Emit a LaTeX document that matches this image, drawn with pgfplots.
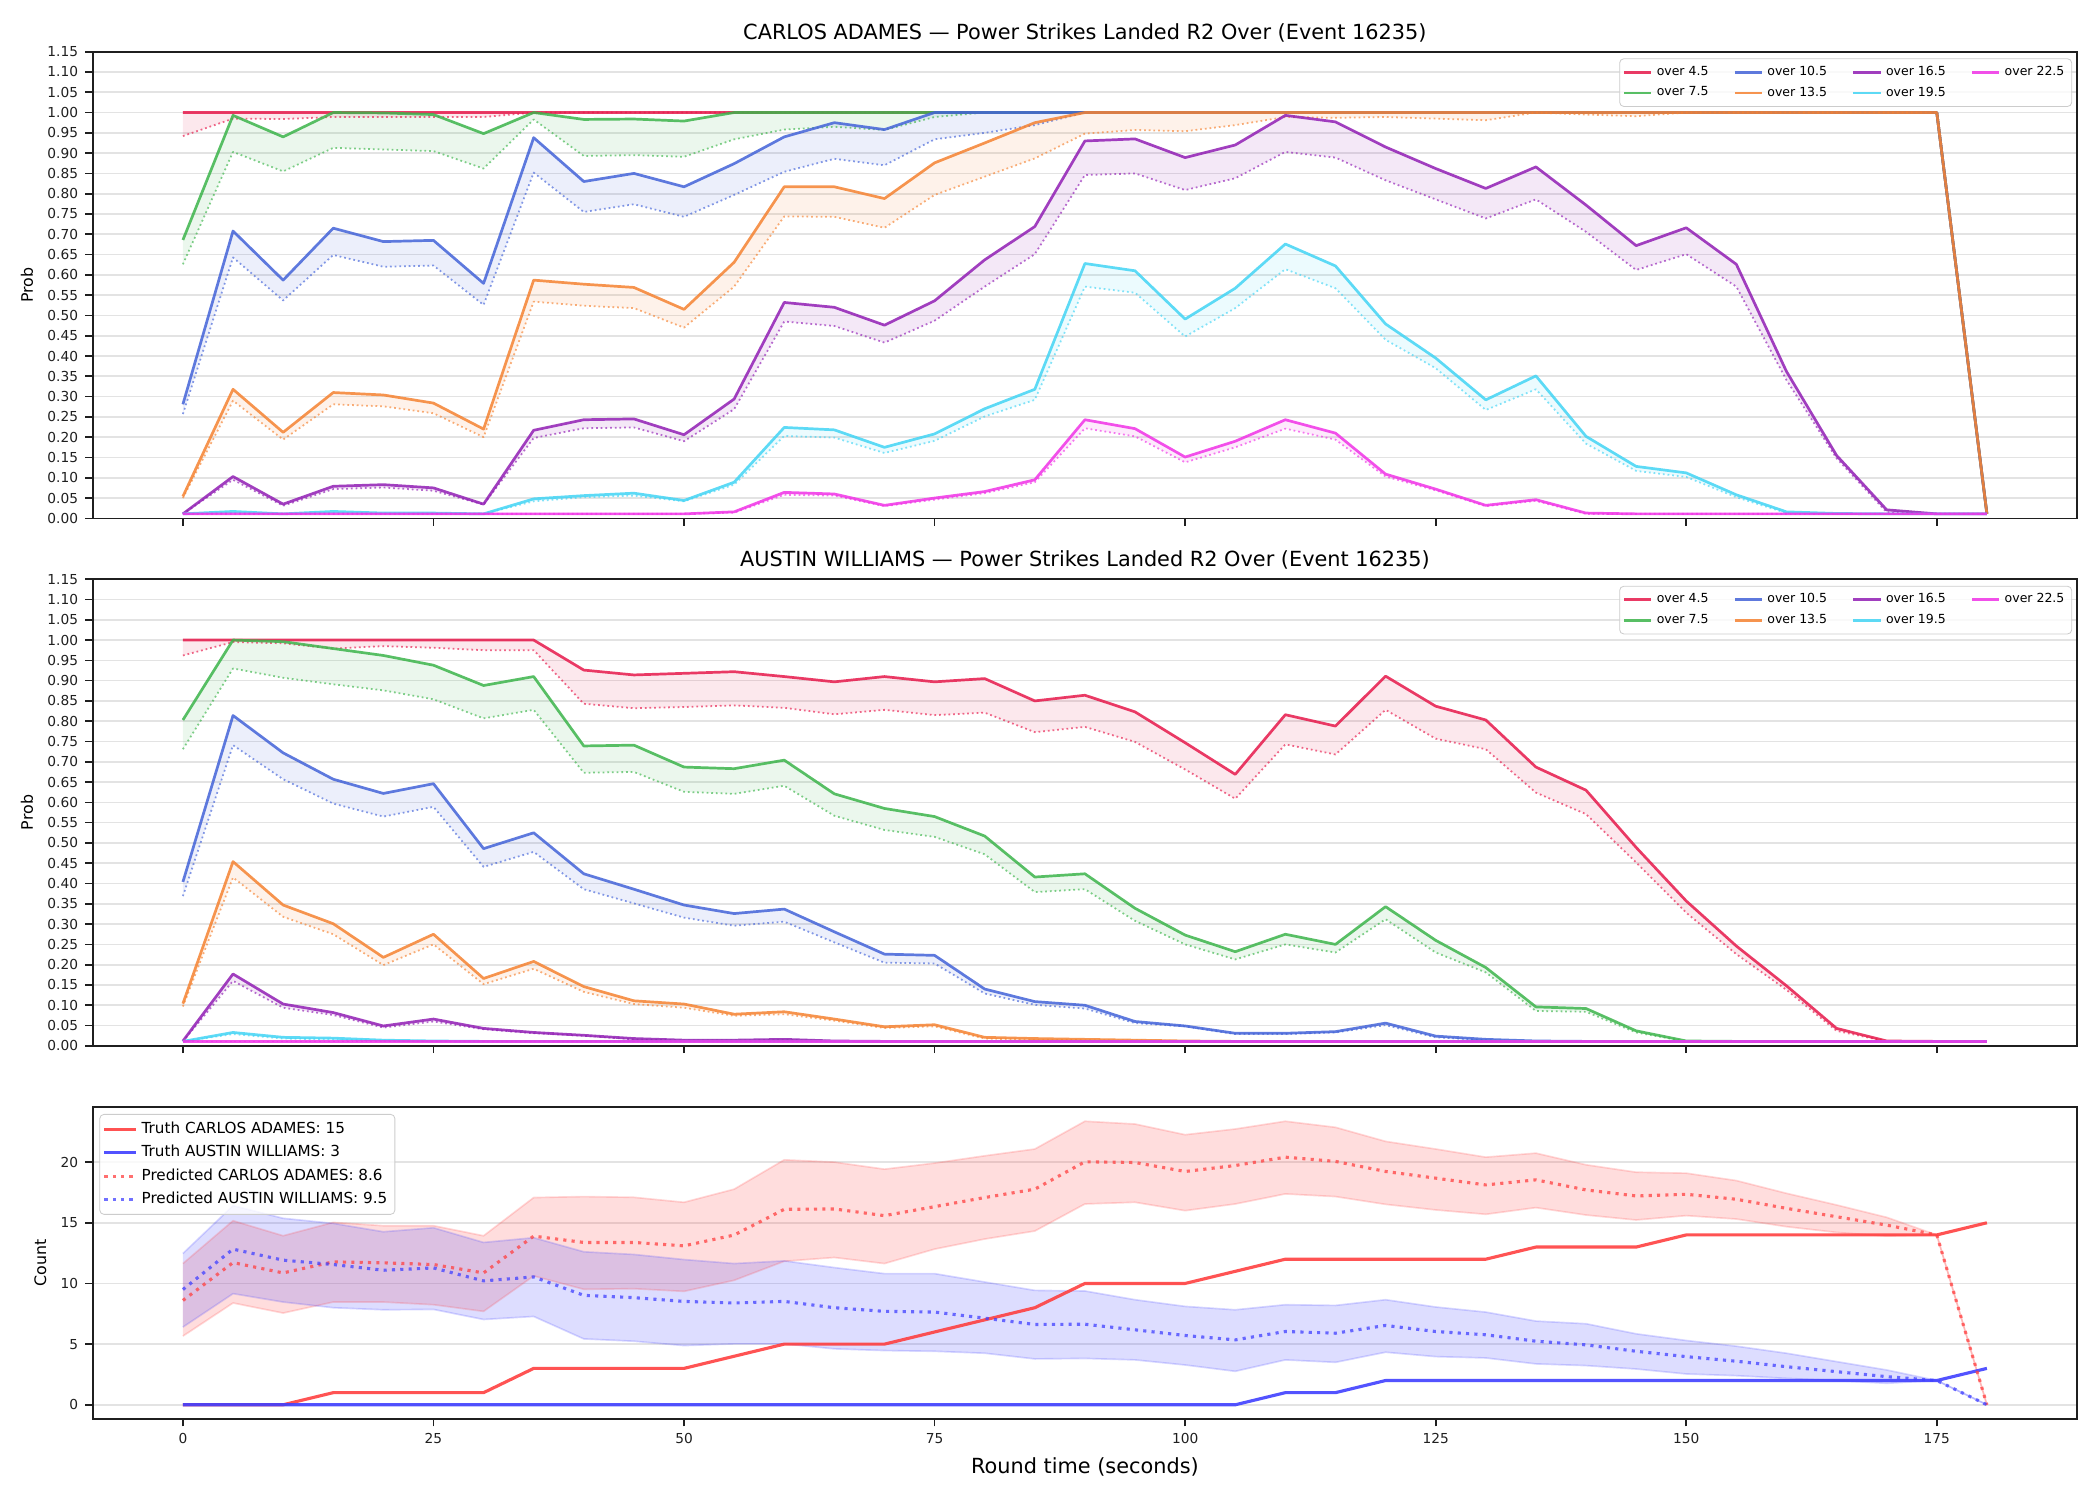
\documentclass[border=0pt]{standalone}
\usepackage{fontspec}
\setmainfont{DejaVu Sans}
\usepackage{pgfplots}
\pgfplotsset{compat=1.18}
\usepackage{pgfplotstable}
\usepgfplotslibrary{fillbetween}

\definecolor{c45}{HTML}{E6194B}
\definecolor{c75}{HTML}{3CB44B}
\definecolor{c105}{HTML}{4363D8}
\definecolor{c135}{HTML}{F58231}
\definecolor{c165}{HTML}{911EB4}
\definecolor{c195}{HTML}{42D4F4}
\definecolor{c225}{HTML}{F032E6}
\definecolor{cr}{HTML}{FF4040}
\definecolor{cb}{HTML}{4040FF}

\pgfplotstableread{
t s45 d45 s75 d75 s105 d105 s135 d135 s165 d165 s195 d195 s225 d225
0 1.0 0.942 0.686 0.626 0.281 0.257 0.054 0.050 0.011 0.011 0.011 0.011 0.011 0.011
5 1.0 0.985 0.993 0.903 0.708 0.643 0.318 0.290 0.103 0.095 0.017 0.014 0.011 0.011
10 1.0 0.984 0.940 0.855 0.587 0.537 0.212 0.194 0.035 0.031 0.011 0.011 0.011 0.011
15 1.0 0.989 1.0 0.913 0.715 0.649 0.310 0.281 0.079 0.072 0.017 0.014 0.011 0.011
20 1.0 0.989 0.999 0.909 0.682 0.620 0.304 0.276 0.083 0.076 0.013 0.012 0.011 0.011
25 1.0 0.989 0.995 0.905 0.685 0.623 0.284 0.259 0.075 0.068 0.013 0.012 0.011 0.011
30 1.0 0.989 0.948 0.862 0.579 0.526 0.220 0.200 0.035 0.034 0.011 0.011 0.011 0.011
35 1.0 1.0 1.0 0.983 0.938 0.852 0.587 0.534 0.217 0.198 0.048 0.042 0.011 0.011
40 1.0 1.0 0.983 0.893 0.830 0.755 0.577 0.524 0.243 0.222 0.056 0.052 0.011 0.011
45 1.0 1.0 0.984 0.895 0.850 0.774 0.569 0.518 0.245 0.224 0.062 0.056 0.011 0.011
50 1.0 1.0 0.979 0.891 0.817 0.743 0.515 0.470 0.206 0.190 0.044 0.042 0.011 0.011
55 1.0 1.0 1.0 0.934 0.874 0.797 0.631 0.571 0.294 0.269 0.089 0.083 0.016 0.014
60 1.0 1.0 1.0 0.958 0.940 0.854 0.817 0.744 0.532 0.485 0.224 0.203 0.064 0.058
65 1.0 1.0 1.0 0.965 0.975 0.886 0.817 0.743 0.520 0.474 0.218 0.199 0.060 0.056
70 1.0 1.0 1.0 0.957 0.958 0.870 0.788 0.716 0.476 0.433 0.175 0.161 0.032 0.030
75 1.0 1.0 1.0 0.989 1.0 0.934 0.876 0.797 0.536 0.487 0.208 0.191 0.050 0.046
80 1.0 1.0 1.0 1.0 1.0 0.950 0.925 0.842 0.637 0.571 0.270 0.251 0.066 0.062
85 1.0 1.0 1.0 1.0 1.0 0.969 0.975 0.887 0.719 0.651 0.318 0.292 0.095 0.089
90 1.0 1.0 1.0 1.0 1.0 1.0 1.0 0.948 0.930 0.846 0.628 0.571 0.243 0.222
95 1.0 1.0 1.0 1.0 1.0 1.0 1.0 0.957 0.935 0.850 0.610 0.556 0.221 0.202
100 1.0 1.0 1.0 1.0 1.0 1.0 1.0 0.954 0.889 0.809 0.491 0.448 0.151 0.138
105 1.0 1.0 1.0 1.0 1.0 1.0 1.0 0.969 0.920 0.838 0.567 0.518 0.190 0.175
110 1.0 1.0 1.0 1.0 1.0 1.0 1.0 0.989 0.993 0.903 0.676 0.614 0.243 0.221
115 1.0 1.0 1.0 1.0 1.0 1.0 1.0 0.987 0.977 0.889 0.622 0.567 0.210 0.194
120 1.0 1.0 1.0 1.0 1.0 1.0 1.0 0.989 0.915 0.833 0.479 0.440 0.109 0.103
125 1.0 1.0 1.0 1.0 1.0 1.0 1.0 0.985 0.862 0.786 0.395 0.370 0.072 0.069
130 1.0 1.0 1.0 1.0 1.0 1.0 1.0 0.981 0.813 0.739 0.292 0.267 0.032 0.030
135 1.0 1.0 1.0 1.0 1.0 1.0 1.0 1.0 0.866 0.786 0.351 0.318 0.046 0.043
140 1.0 1.0 1.0 1.0 1.0 1.0 1.0 0.995 0.772 0.706 0.202 0.184 0.013 0.011
145 1.0 1.0 1.0 1.0 1.0 1.0 1.0 0.991 0.672 0.612 0.128 0.117 0.011 0.011
150 1.0 1.0 1.0 1.0 1.0 1.0 1.0 1.0 0.716 0.651 0.112 0.102 0.011 0.011
155 1.0 1.0 1.0 1.0 1.0 1.0 1.0 1.0 0.626 0.571 0.058 0.052 0.011 0.011
160 1.0 1.0 1.0 1.0 1.0 1.0 1.0 1.0 0.362 0.341 0.016 0.013 0.011 0.011
165 1.0 1.0 1.0 1.0 1.0 1.0 1.0 1.0 0.155 0.148 0.012 0.011 0.011 0.011
170 1.0 1.0 1.0 1.0 1.0 1.0 1.0 1.0 0.021 0.015 0.011 0.011 0.011 0.011
175 1.0 1.0 1.0 1.0 1.0 1.0 1.0 1.0 0.011 0.011 0.011 0.011 0.011 0.011
180 0.011 0.011 0.011 0.011 0.011 0.011 0.011 0.011 0.011 0.011 0.011 0.011 0.011 0.011
}\carlos

\pgfplotstableread{
t s45 d45 s75 d75 s105 d105 s135 d135 s165 d165 s195 d195 s225 d225
0 1.0 0.962 0.803 0.731 0.404 0.369 0.104 0.097 0.012 0.011 0.011 0.011 0.011 0.011
5 1.0 0.995 1.0 0.930 0.814 0.741 0.454 0.415 0.177 0.160 0.033 0.029 0.011 0.011
10 1.0 0.992 0.996 0.907 0.722 0.657 0.347 0.318 0.103 0.094 0.021 0.018 0.011 0.011
15 1.0 0.979 0.979 0.891 0.657 0.597 0.301 0.275 0.082 0.076 0.019 0.016 0.011 0.011
20 1.0 0.985 0.962 0.876 0.622 0.565 0.218 0.199 0.049 0.045 0.014 0.013 0.011 0.011
25 1.0 0.981 0.938 0.854 0.646 0.589 0.275 0.250 0.066 0.060 0.012 0.012 0.011 0.011
30 1.0 0.975 0.888 0.807 0.486 0.441 0.166 0.152 0.043 0.041 0.011 0.011 0.011 0.011
35 1.0 0.975 0.910 0.828 0.525 0.478 0.208 0.190 0.033 0.031 0.011 0.011 0.011 0.011
40 0.926 0.843 0.739 0.673 0.424 0.386 0.146 0.133 0.026 0.025 0.011 0.011 0.011 0.011
45 0.914 0.832 0.741 0.675 0.386 0.351 0.111 0.103 0.018 0.016 0.011 0.011 0.011 0.011
50 0.918 0.835 0.687 0.626 0.347 0.316 0.103 0.094 0.014 0.013 0.011 0.011 0.011 0.011
55 0.922 0.839 0.683 0.621 0.326 0.296 0.078 0.074 0.014 0.013 0.011 0.011 0.011 0.011
60 0.910 0.833 0.704 0.641 0.337 0.306 0.084 0.078 0.016 0.014 0.011 0.011 0.011 0.011
65 0.897 0.817 0.621 0.567 0.281 0.255 0.066 0.062 0.012 0.012 0.011 0.011 0.011 0.011
70 0.910 0.828 0.585 0.532 0.226 0.205 0.047 0.044 0.011 0.011 0.011 0.011 0.011 0.011
75 0.897 0.815 0.565 0.515 0.223 0.203 0.052 0.048 0.011 0.011 0.011 0.011 0.011 0.011
80 0.905 0.821 0.517 0.472 0.140 0.129 0.021 0.018 0.011 0.011 0.011 0.011 0.011 0.011
85 0.850 0.773 0.416 0.379 0.109 0.101 0.018 0.015 0.011 0.011 0.011 0.011 0.011 0.011
90 0.864 0.786 0.424 0.386 0.100 0.092 0.016 0.014 0.011 0.011 0.011 0.011 0.011 0.011
95 0.823 0.749 0.339 0.308 0.060 0.056 0.014 0.013 0.011 0.011 0.011 0.011 0.011 0.011
100 0.747 0.681 0.273 0.250 0.049 0.048 0.012 0.012 0.011 0.011 0.011 0.011 0.011 0.011
105 0.669 0.609 0.232 0.213 0.031 0.029 0.011 0.011 0.011 0.011 0.011 0.011 0.011 0.011
110 0.816 0.743 0.275 0.250 0.031 0.029 0.011 0.011 0.011 0.011 0.011 0.011 0.011 0.011
115 0.788 0.718 0.250 0.230 0.035 0.033 0.011 0.011 0.011 0.011 0.011 0.011 0.011 0.011
120 0.911 0.828 0.343 0.312 0.056 0.051 0.011 0.011 0.011 0.011 0.011 0.011 0.011 0.011
125 0.837 0.757 0.260 0.230 0.024 0.021 0.011 0.011 0.011 0.011 0.011 0.011 0.011 0.011
130 0.803 0.731 0.193 0.181 0.016 0.014 0.011 0.011 0.011 0.011 0.011 0.011 0.011 0.011
135 0.687 0.624 0.096 0.086 0.012 0.011 0.011 0.011 0.011 0.011 0.011 0.011 0.011 0.011
140 0.630 0.571 0.092 0.084 0.011 0.011 0.011 0.011 0.011 0.011 0.011 0.011 0.011 0.011
145 0.489 0.452 0.037 0.033 0.011 0.011 0.011 0.011 0.011 0.011 0.011 0.011 0.011 0.011
150 0.357 0.328 0.012 0.011 0.011 0.011 0.011 0.011 0.011 0.011 0.011 0.011 0.011 0.011
155 0.246 0.226 0.011 0.011 0.011 0.011 0.011 0.011 0.011 0.011 0.011 0.011 0.011 0.011
160 0.148 0.138 0.011 0.011 0.011 0.011 0.011 0.011 0.011 0.011 0.011 0.011 0.011 0.011
165 0.043 0.037 0.011 0.011 0.011 0.011 0.011 0.011 0.011 0.011 0.011 0.011 0.011 0.011
170 0.012 0.011 0.011 0.011 0.011 0.011 0.011 0.011 0.011 0.011 0.011 0.011 0.011 0.011
175 0.011 0.011 0.011 0.011 0.011 0.011 0.011 0.011 0.011 0.011 0.011 0.011 0.011 0.011
180 0.011 0.011 0.011 0.011 0.011 0.011 0.011 0.011 0.011 0.011 0.011 0.011 0.011 0.011
}\austin

\pgfplotstableread{
t tc ta pc lc uc pa la ua
0 0 0 8.6 5.66 11.64 9.5 6.40 12.47
5 0 0 11.72 8.39 15.17 12.83 9.16 16.41
10 0 0 10.87 7.56 13.93 11.92 8.47 15.37
15 1 0 11.78 8.47 15.03 11.56 8.00 14.95
20 1 0 11.70 8.47 14.76 11.09 7.83 14.26
25 1 0 11.56 8.25 14.76 11.28 7.86 14.59
30 1 0 10.87 7.70 13.93 10.21 7.03 13.38
35 3 0 13.90 10.62 17.08 10.54 7.28 13.77
40 3 0 13.38 9.52 17.16 9.02 5.43 12.61
45 3 0 13.38 9.57 17.10 8.83 5.24 12.39
50 3 0 13.10 9.35 16.69 8.52 4.88 11.97
55 4 0 13.99 10.26 17.77 8.39 5.02 11.64
60 5 0 16.11 11.83 20.19 8.52 5.02 11.86
65 5 0 16.14 12.14 20.00 8.00 4.61 11.31
70 5 0 15.59 11.64 19.42 7.70 4.47 10.81
75 6 0 16.33 12.83 19.92 7.64 4.41 10.81
80 7 0 17.08 13.66 20.52 7.14 4.25 10.12
85 8 0 17.77 14.32 21.08 6.62 3.78 9.43
90 10 0 20.03 16.55 23.37 6.64 3.82 9.38
95 10 0 19.97 16.69 23.14 6.18 3.70 8.66
100 10 0 19.23 16.00 22.26 5.71 3.28 8.11
105 11 0 19.72 16.55 22.73 5.35 2.76 7.83
110 12 1 20.41 17.38 23.37 6.04 3.70 8.25
115 12 1 20.06 17.16 22.87 5.90 3.50 8.19
120 12 2 19.23 16.52 21.71 6.54 4.33 8.66
125 12 2 18.68 16.06 21.08 6.04 3.97 8.06
130 12 2 18.12 15.70 20.41 5.77 3.86 7.64
135 13 2 18.54 16.25 20.74 5.24 3.37 6.90
140 13 2 17.71 15.64 19.78 4.94 3.23 6.68
145 13 2 17.21 15.23 19.17 4.41 2.95 5.85
150 14 2 17.35 15.59 19.09 3.97 2.54 5.30
155 14 2 16.94 15.31 18.48 3.59 2.40 4.83
160 14 2 16.19 14.68 17.43 3.14 2.18 4.25
165 14 2 15.50 14.21 16.47 2.73 1.99 3.56
170 14 2 14.81 13.90 15.45 2.32 1.77 2.87
175 14 2 14.00 14.00 14.00 2.00 2.00 2.00
180 15 3 0 0 0 0 0 0
}\counts

\pgfplotsset{
  /pgf/number format/assume math mode=true,
  common/.style={
    scale only axis, width=952.5pt,
    xmin=-9, xmax=189,
    xtick={0,25,50,75,100,125,150,175},
    set layers,
    ymajorgrids,
    major grid style={line width=0.8pt, draw=black!11},
    axis line style={line width=0.8pt, draw=black!88},
    tick style={line width=0.8pt, draw=black!88},
    major tick length=3.5pt, tick align=outside, tick pos=left,
    tick label style={font=\fontsize{6.6}{8}\selectfont, text=black!88},
    ylabel style={font=\fontsize{7.6}{9}\selectfont},
    title style={font=\fontsize{10}{12}\selectfont, at={(0.5,1)}, anchor=base, yshift=0pt},
    every axis plot/.append style={line join=round},
  },
  prob/.style={
    common, height=224pt, ymin=0, ymax=1.15,
    ytick={0,0.05,0.1,0.15,0.2,0.25,0.3,0.35,0.4,0.45,0.5,0.55,0.6,0.65,0.7,0.75,0.8,0.85,0.9,0.95,1,1.05,1.1,1.15},
    yticklabel={\pgfmathprintnumber[fixed,fixed zerofill,precision=2]{\tick}},
    xticklabels={},
    ylabel={Prob},
    legend columns=4,
    legend cell align=left,
    legend image code/.code={\draw[##1] (0pt,0pt) -- (13pt,0pt);},
    legend style={at={(1,1)}, anchor=north east, xshift=-2.4pt, yshift=-3.2pt,
      font=\fontsize{6}{7}\selectfont, draw=black!20, rounded corners=2pt,
      fill=white, fill opacity=0.8, text opacity=1, inner sep=1.5pt,
      /tikz/every even column/.append style={column sep=10pt}},
  },
}

\newcommand{\band}[2]{%
  \addplot[name path=s#2, draw=c#2, draw opacity=0.85, line width=1.3pt, forget plot] table[x=t,y=s#2]{#1};
  \addplot[name path=d#2, draw=c#2, draw opacity=0.65, line width=0.85pt, dash pattern=on 0.85pt off 1.4pt, forget plot] table[x=t,y=d#2]{#1};
  \addplot[fill=c#2, fill opacity=0.1, draw=none, forget plot] fill between[of=s#2 and d#2];
}
\newcommand{\problegend}{%
  \addlegendimage{c45, line width=1.3pt, opacity=0.85}\addlegendentry{over 4.5}
  \addlegendimage{c105, line width=1.3pt, opacity=0.85}\addlegendentry{over 10.5}
  \addlegendimage{c165, line width=1.3pt, opacity=0.85}\addlegendentry{over 16.5}
  \addlegendimage{c225, line width=1.3pt, opacity=0.85}\addlegendentry{over 22.5}
  \addlegendimage{c75, line width=1.3pt, opacity=0.85}\addlegendentry{over 7.5}
  \addlegendimage{c135, line width=1.3pt, opacity=0.85}\addlegendentry{over 13.5}
  \addlegendimage{c195, line width=1.3pt, opacity=0.85}\addlegendentry{over 19.5}
}

\begin{document}
\begin{tikzpicture}

\begin{axis}[prob, at={(44.5pt,-24.8pt)}, anchor=north west,
  title={CARLOS ADAMES — Power Strikes Landed R2 Over (Event 16235)}]
\problegend
\band{\carlos}{45}
\band{\carlos}{75}
\band{\carlos}{105}
\band{\carlos}{135}
\band{\carlos}{165}
\band{\carlos}{195}
\band{\carlos}{225}
\end{axis}

\begin{axis}[prob, at={(44.5pt,-278pt)}, anchor=north west,
  title={AUSTIN WILLIAMS — Power Strikes Landed R2 Over (Event 16235)}]
\problegend
\band{\austin}{45}
\band{\austin}{75}
\band{\austin}{105}
\band{\austin}{135}
\band{\austin}{165}
\band{\austin}{195}
\band{\austin}{225}
\end{axis}

\begin{axis}[common, at={(44.5pt,-531.2pt)}, anchor=north west,
  height=149.9pt, ymin=-1.17, ymax=24.57, ytick={0,5,10,15,20},
  ylabel={Count},
  xlabel={Round time (seconds)},
  xlabel style={font=\fontsize{10}{12}\selectfont, at={(axis description cs:0.5,0)}, anchor=base, yshift=-26pt},
  legend cell align=left,
  legend image code/.code={\draw[#1] (0pt,0pt) -- (15pt,0pt);},
  legend style={at={(0,1)}, anchor=north west, xshift=3.2pt, yshift=-3.5pt,
    font=\fontsize{7.3}{8.5}\selectfont, draw=black!20, rounded corners=2pt,
    fill=white, fill opacity=0.8, text opacity=1, inner sep=1.5pt,
    nodes={inner sep=2.1pt}}]
\addlegendimage{cr, line width=1.5pt, opacity=0.9}\addlegendentry{Truth CARLOS ADAMES: 15}
\addlegendimage{cb, line width=1.5pt, opacity=0.9}\addlegendentry{Truth AUSTIN WILLIAMS: 3}
\addlegendimage{cr, line width=1.5pt, opacity=0.75, dash pattern=on 1.5pt off 2.5pt}\addlegendentry{Predicted CARLOS ADAMES: 8.6}
\addlegendimage{cb, line width=1.5pt, opacity=0.75, dash pattern=on 1.5pt off 2.5pt}\addlegendentry{Predicted AUSTIN WILLIAMS: 9.5}

\addplot[name path=uc, draw=cr, draw opacity=0.2, line width=0.8pt, forget plot] table[x=t,y=uc]{\counts};
\addplot[name path=lc, draw=cr, draw opacity=0.2, line width=0.8pt, forget plot] table[x=t,y=lc]{\counts};
\addplot[fill=cr, fill opacity=0.18, draw=none, forget plot] fill between[of=uc and lc];
\addplot[name path=ua, draw=cb, draw opacity=0.2, line width=0.8pt, forget plot] table[x=t,y=ua]{\counts};
\addplot[name path=la, draw=cb, draw opacity=0.2, line width=0.8pt, forget plot] table[x=t,y=la]{\counts};
\addplot[fill=cb, fill opacity=0.18, draw=none, forget plot] fill between[of=ua and la];

\addplot[draw=cr, draw opacity=0.9, line width=1.5pt, forget plot] table[x=t,y=tc]{\counts};
\addplot[draw=cb, draw opacity=0.9, line width=1.5pt, forget plot] table[x=t,y=ta]{\counts};
\addplot[draw=cr, draw opacity=0.75, line width=1.5pt, dash pattern=on 1.5pt off 2.5pt, forget plot] table[x=t,y=pc]{\counts};
\addplot[draw=cb, draw opacity=0.75, line width=1.5pt, dash pattern=on 1.5pt off 2.5pt, forget plot] table[x=t,y=pa]{\counts};
\end{axis}

\pgfresetboundingbox
\path[use as bounding box] (0pt,0pt) rectangle (1008pt,-720pt);
\end{tikzpicture}
\end{document}
